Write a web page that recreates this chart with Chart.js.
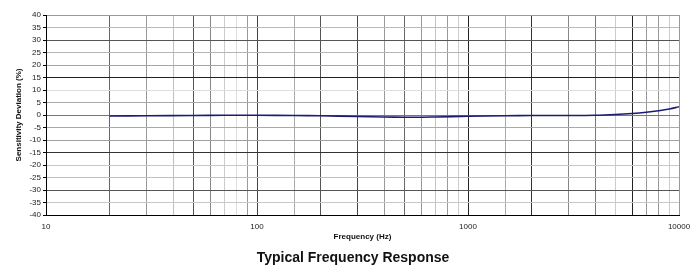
<!DOCTYPE html>
<html><head><meta charset="utf-8">
<script src="https://cdn.jsdelivr.net/npm/chart.js@4"></script>
<style>html,body{margin:0;padding:0;background:#fff}#wrap{width:692px;height:265px}</style>
</head><body><div id="wrap"><canvas id="c" width="692" height="265"></canvas></div>
<script>
const frequencies = [20, 30, 50, 70, 100, 150, 200, 300, 400, 500, 600, 700, 1000, 1500, 2000, 3000, 4000, 5000, 6000, 7000, 8000, 9000, 10000];
const deviation   = [-0.4, -0.3, -0.2, -0.1, -0.1, -0.2, -0.3, -0.6, -0.8, -0.9, -0.9, -0.8, -0.5, -0.3, -0.2, -0.2, -0.1, 0.2, 0.6, 1.1, 1.7, 2.4, 3.3];
const xMajorTicks = [10, 100, 1000, 10000];
const yTicks = [-40,-35,-30,-25,-20,-15,-10,-5,0,5,10,15,20,25,30,35,40];

const hColors = {40:'#9a9a9a',35:'#bbbbbb',30:'#555555',25:'#b5b5b5',20:'#a5a5a5',15:'#222222',10:'#dddddd',5:'#aaaaaa',0:'#777777','-5':'#aaaaaa','-10':'#a0a0a0','-15':'#333333','-20':'#c8c8c8','-25':'#c0c0c0','-30':'#555555','-35':'#c8c8c8','-40':'#000000'};
const vColors = {10:'#000000',20:'#666666',30:'#9a9a9a',40:'#c0c0c0',50:'#555555',60:'#888888',70:'#cccccc',80:'#dddddd',90:'#999999',100:'#444444',
  200:'#555555',300:'#444444',400:'#999999',500:'#666666',600:'#999999',700:'#c5c5c5',800:'#999999',900:'#cccccc',1000:'#222222',
  2000:'#333333',3000:'#888888',4000:'#777777',5000:'#cccccc',6000:'#222222',7000:'#999999',8000:'#999999',9000:'#cccccc',10000:'#999999'};

new Chart(document.getElementById('c'), {
  type: 'line',
  data: { datasets: [{
    data: frequencies.map((f,i)=>({x:f, y:deviation[i]})),
    borderColor: '#1c1c72', borderWidth: 1.6, pointRadius: 0, tension: 0.4, fill: false
  }]},
  options: {
    responsive: false, animation: false,
    layout: { padding: { left: 14, right: 0, top: 15, bottom: 0 } },
    plugins: {
      legend: { display: false }, tooltip: { enabled: false },
      title: { display: true, position: 'bottom', text: 'Typical Frequency Response',
        font: { family: 'Liberation Sans', size: 14, weight: 'bold' }, color: '#111',
        padding: { top: 5, bottom: -2 } }
    },
    scales: {
      x: {
        type: 'logarithmic', min: 10, max: 10000,
        afterFit: s => { s.paddingRight = 13; },
        grid: { color: ctx => vColors[ctx.tick ? ctx.tick.value : 10] || '#aaaaaa', lineWidth: 1, drawTicks: false },
        border: { color: '#000', width: 1 },
        ticks: { autoSkip: false, maxRotation: 0, padding: 7, color: '#222',
          font: { family: 'Liberation Sans', size: 8 },
          callback: (v) => xMajorTicks.includes(v) ? String(v) : '' },
        title: { display: true, text: 'Frequency (Hz)', color: '#111',
          font: { family: 'Liberation Sans', size: 8, weight: 'bold' }, padding: { top: -7, bottom: 4 } }
      },
      y: {
        min: -40, max: 40,
        afterBuildTicks: s => { s.ticks = yTicks.map(v => ({value: v})); },
        afterFit: s => { s.width = 32; },
        grid: { color: ctx => hColors[ctx.tick ? ctx.tick.value : 0] || '#aaaaaa', lineWidth: 1, tickLength: 3, tickColor: '#000' },
        border: { color: '#000', width: 1 },
        ticks: { autoSkip: false, stepSize: 5, padding: 2, color: '#222', font: { family: 'Liberation Sans', size: 8 } },
        title: { display: true, text: 'Sensitivity Deviation (%)', color: '#111',
          font: { family: 'Liberation Sans', size: 8, weight: 'bold' }, padding: { top: 0, bottom: 0 } }
      }
    }
  }
});
</script></body></html>
